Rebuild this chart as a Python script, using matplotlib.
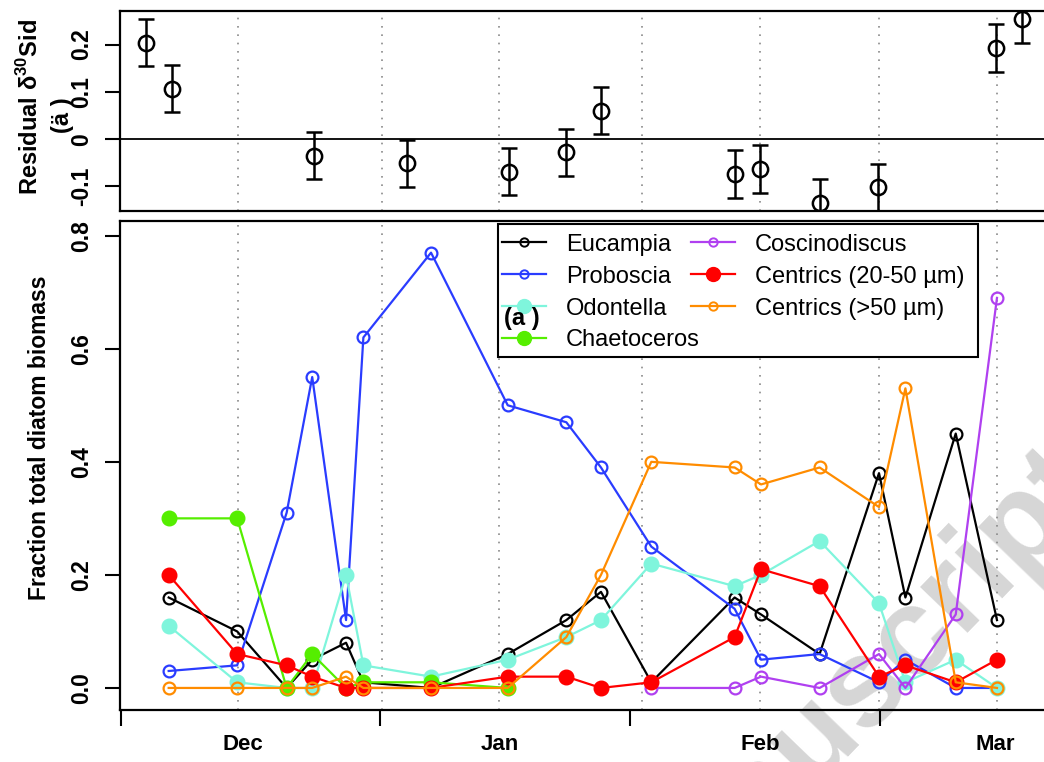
import matplotlib
matplotlib.use('Agg')
import matplotlib.pyplot as plt
from matplotlib.lines import Line2D
from matplotlib.patches import Rectangle
import numpy as np

plt.rcParams['font.family'] = ['Liberation Sans', 'DejaVu Sans']
plt.rcParams['mathtext.fontset'] = 'custom'
plt.rcParams['mathtext.rm'] = 'Liberation Sans:bold'
plt.rcParams['mathtext.bf'] = 'Liberation Sans:bold'

nan = np.nan

# sampling days, counted from the start of the season
days = [5.9, 14.2, 20.2, 23.3, 27.4, 29.5, 37.7, 47.0, 54.1, 58.3,
        64.4, 74.5, 77.7, 84.8, 92.0, 95.2, 101.3, 106.3]

eucampia = [0.16, 0.10, 0.00, 0.05, 0.08, 0.01, 0.00, 0.06, 0.12, 0.17,
            0.01, 0.16, 0.13, 0.06, 0.38, 0.16, 0.45, 0.12]
proboscia = [0.03, 0.04, 0.31, 0.55, 0.12, 0.62, 0.77, 0.50, 0.47, 0.39,
             0.25, 0.14, 0.05, 0.06, 0.01, 0.05, 0.00, 0.00]
odontella = [0.11, 0.01, 0.00, 0.00, 0.20, 0.04, 0.02, 0.05, 0.09, 0.12,
             0.22, 0.18, 0.20, 0.26, 0.15, 0.01, 0.05, 0.00]
chaetoceros = [0.30, 0.30, 0.00, 0.06, 0.00, 0.01, 0.01, 0.00, nan, nan,
               nan, nan, nan, nan, nan, nan, nan, nan]
coscinodiscus = [nan, nan, nan, nan, nan, nan, nan, nan, nan, nan,
                 0.00, 0.00, 0.02, 0.00, 0.06, 0.00, 0.13, 0.69]
centrics_small = [0.20, 0.06, 0.04, 0.02, 0.00, 0.00, 0.00, 0.02, 0.02, 0.00,
                  0.01, 0.09, 0.21, 0.18, 0.02, 0.04, 0.01, 0.05]
centrics_large = [0.00, 0.00, 0.00, 0.00, 0.02, 0.00, 0.00, 0.00, 0.09, 0.20,
                  0.40, 0.39, 0.36, 0.39, 0.32, 0.53, 0.01, 0.00]

# residual d30Si of the diatoms
res_days = [3.2, 6.3, 23.5, 34.8, 47.2, 54.1, 58.3, 74.5, 77.6, 84.8, 91.9, 106.2, 109.3]
residual = [0.204, 0.107, -0.035, -0.051, -0.069, -0.028, 0.060, -0.074, -0.063,
            -0.135, -0.102, 0.193, 0.254]
res_err = [0.05, 0.05, 0.05, 0.05, 0.05, 0.05, 0.05, 0.05, 0.05, 0.05, 0.05, 0.05, 0.05]

grid_days = [14.3, 31.8, 45.9, 63.3, 77.6, 92.0, 106.3]
month_ticks = [0.1, 31.5, 61.8, 92.1]
month_pos = [14.9, 46.1, 77.6, 106.1]
months = ['Dec', 'Jan', 'Feb', 'Mar']

W, H = 1044, 762


def box(l, t, r, b):
    return [l / W, 1 - b / H, (r - l) / W, (b - t) / H]


def style_axes(ax):
    ax.set_facecolor('none')
    ax.spines['right'].set_visible(False)
    for s in ['left', 'top', 'bottom']:
        ax.spines[s].set_linewidth(1.6)
    ax.set_xlim(0, 112)
    for g in grid_days:
        ax.axvline(g, color='#8a8a8a', ls=(0, (1, 4)), lw=1.2, zorder=0)
    ax.tick_params(axis='y', length=10.5, width=1.5, pad=9, labelrotation=90)
    for lab in ax.get_yticklabels():
        lab.set_fontweight('bold')
        lab.set_fontsize(16.5)
        lab.set_va('center')


fig = plt.figure(figsize=(W / 100, H / 100), dpi=100)

# watermark behind the panels
fig.text(845 / W, 1 - 705 / H, 'Manuscript', rotation=46, fontsize=90,
         color='#d6d6d6', fontweight='bold', ha='center', va='center', zorder=-1)

# ---- upper panel: residuals
ax1 = fig.add_axes(box(120, 11, 1044, 211))
ax1.set_ylim(-0.152, 0.271)
ax1.set_yticks([-0.1, 0, 0.1, 0.2], labels=['-0.1', '0', '0.1', '0.2'])
style_axes(ax1)
ax1.set_xticks([])
ax1.axhline(0, color='black', lw=1.3)
ax1.errorbar(res_days, residual, yerr=res_err, fmt='o', mfc='none', mec='black',
             mew=1.8, ms=11, ecolor='black', elinewidth=1.8, capsize=5.5,
             capthick=1.8, zorder=3)

fig.text(30 / W, 1 - 107 / H, r'Residual δ$^{30}$Sid', rotation=90, fontsize=17,
         fontweight='bold', ha='center', va='center')
fig.text(63 / W, 1 - 115 / H, '(ä )', rotation=90, fontsize=17,
         fontweight='bold', ha='center', va='center')

# ---- lower panel: diatom composition
ax = fig.add_axes(box(120, 221, 1044, 710))
ax.set_ylim(-0.039, 0.826)
ax.set_yticks([0, 0.2, 0.4, 0.6, 0.8], labels=['0.0', '0.2', '0.4', '0.6', '0.8'])
style_axes(ax)
ax.set_xticks(month_ticks, labels=['', '', '', ''])
ax.set_xticks(month_pos, labels=months, minor=True)
ax.tick_params(axis='x', which='major', length=11.5, width=1.5)
ax.tick_params(axis='x', which='minor', length=0, pad=17)
for lab in ax.get_xticklabels(minor=True):
    lab.set_fontweight('bold')
    lab.set_fontsize(16)

series = [
    ('Eucampia', eucampia, 'black', False),
    ('Proboscia', proboscia, '#2a3cff', False),
    ('Odontella', odontella, '#7ff5dc', True),
    ('Chaetoceros', chaetoceros, '#55ee00', True),
    ('Coscinodiscus', coscinodiscus, '#b040f0', False),
    ('Centrics (20-50 µm)', centrics_small, '#ff0000', True),
    ('Centrics (>50 µm)', centrics_large, '#ff8c00', False),
]
draw_order = [0, 1, 2, 5, 6, 4, 3]

for i in draw_order:
    name, vals, col, filled = series[i]
    if filled:
        ax.plot(days, vals, '-o', color=col, lw=1.6, ms=10.5, mec=col, mfc=col, zorder=2 + i * 0.1)
    else:
        ax.plot(days, vals, '-o', color=col, lw=1.6, ms=8.5, mew=1.6, mfc='none', zorder=2 + i * 0.1)

handles = []
for name, vals, col, filled in series:
    if filled:
        h = Line2D([], [], color=col, lw=1.6, marker='o', ms=10, mfc=col, mec=col, label=name)
    else:
        h = Line2D([], [], color=col, lw=1.6, marker='o', ms=6, mew=1.4, mfc='none', label=name)
    handles.append(h)

ax.add_patch(Rectangle((0.4091, 0.7219), 0.5195, 0.272, transform=ax.transAxes,
                       fc='white', ec='black', lw=1.5, zorder=5))
leg_kw = dict(loc='upper left', frameon=False, fontsize=17, borderpad=0,
              borderaxespad=0, handlelength=1.85, handletextpad=0.85,
              labelspacing=0.42)
leg1 = ax.legend(handles=handles[:4], bbox_to_anchor=(0.4134, 0.974), **leg_kw)
leg1.set_zorder(6)
ax.add_artist(leg1)
leg2 = ax.legend(handles=handles[4:], bbox_to_anchor=(0.618, 0.974), **leg_kw)
leg2.set_zorder(6)

ax.text(0.435, 0.8, '(a )', transform=ax.transAxes, fontsize=17,
        fontweight='bold', ha='center', va='center', zorder=7)

fig.text(40 / W, 1 - 438 / H, 'Fraction total diatom biomass', rotation=90,
         fontsize=16.5, fontweight='bold', ha='center', va='center')

fig.savefig('out.png', dpi=100)
